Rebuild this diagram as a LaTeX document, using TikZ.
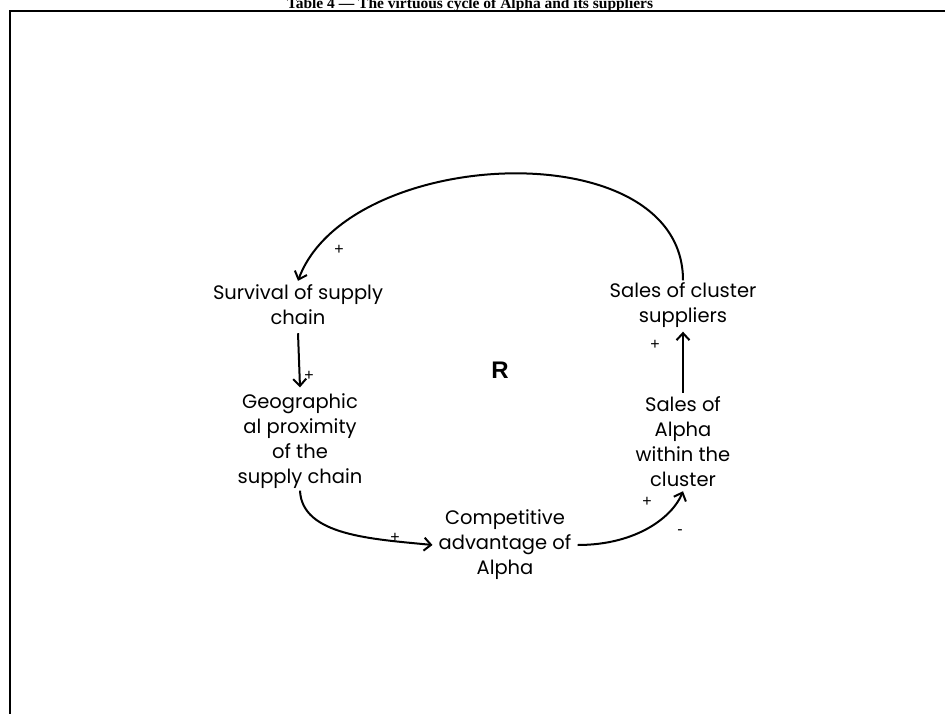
\documentclass[tikz,border=0pt]{standalone}
\usepackage{fontspec}
\setmainfont{Poppins}
\newfontfamily\titlefont{Liberation Serif}
\newfontfamily\signfont{Liberation Sans}
\usetikzlibrary{arrows.meta}

\tikzset{
  factor/.style = {align=center, inner sep=0pt, font=\fontsize{19.5}{25}\selectfont},
  link/.style   = {line width=2pt, -{Straight Barb[length=7pt,width=13pt,line width=2pt]}},
  sign/.style   = {inner sep=0pt, font=\signfont\fontsize{16}{16}\selectfont}
}

\begin{document}
\begin{tikzpicture}[x=1pt, y=-1pt]
				\useasboundingbox (0,0) rectangle (945,713);
				% frame and caption
				\node[anchor=base, font=\titlefont\bfseries\fontsize{15.5}{17}\selectfont] (caption) at (470,8)
				{Table 4 — The virtuous cycle of Alpha and its suppliers};
				\draw[line width=2pt] (10,720) -- (10,11) -- (950,11);

				% factors of the loop
				\node[factor] (survival) at (298,305) {Survival of supply\\chain};
				\node[factor] (proximity) at (300,441) {Geographic\\al proximity\\of the\\supply chain};
				\node[factor] (advantage) at (505,545) {Competitive\\advantage of\\Alpha};
				\node[factor] (alphasales) at (683,442) {Sales of\\Alpha\\within the\\cluster};
				\node[factor] (clustersales) at (683,305) {Sales of cluster\\suppliers};
				\node[font=\signfont\bfseries\fontsize{24}{24}\selectfont] (loop) at (500,370) {R};

				% links
				\draw[link] ([yshift=-8pt]survival.south) -- ([yshift=6pt]proximity.north);
				\draw[link] ([yshift=-2pt]proximity.south) .. controls +(2,45) and +(-60,-6) .. ([xshift=-6pt]advantage.west);
				\draw[link] ([xshift=6pt]advantage.east) .. controls +(60,0) and +(-10,25) .. ([yshift=-4pt]alphasales.south);
				\draw[link] ([yshift=4pt]alphasales.north) -- ([yshift=-4pt]clustersales.south);
				\draw[link] ([yshift=2pt]clustersales.north) .. controls +(0,-150) and +(50,-135) .. ([yshift=4pt]survival.north);

				% polarities
				\node[sign] (s1) at (339,250) {+};
				\node[sign] (s2) at (309,376) {+};
				\node[sign] (s3) at (395,538) {+};
				\node[sign] (s4) at (647,502) {+};
				\node[sign] (s5) at (680,532) {-};
				\node[sign] (s6) at (655,345) {+};
\end{tikzpicture}
\end{document}
